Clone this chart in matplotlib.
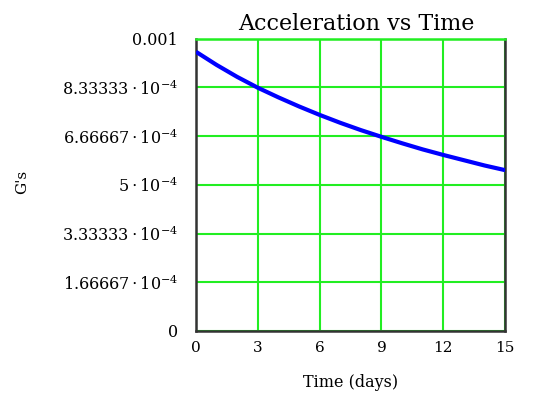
import matplotlib
matplotlib.use("Agg")
import matplotlib.pyplot as plt
import numpy as np

# Data
time_days = [0, 1, 2, 3, 4, 5, 6, 7, 8, 9, 10, 11, 12, 13, 14, 15]
accel_gs = [0.000955, 0.000910, 0.000869, 0.000832, 0.000799, 0.000768,
            0.000739, 0.000712, 0.000687, 0.000664, 0.000642, 0.000621,
            0.000602, 0.000584, 0.000566, 0.000550]
x_ticks = [0, 3, 6, 9, 12, 15]
x_tick_labels = ["0", "3", "6", "9", "12", "15"]
y_ticks = [0, 1/6000, 2/6000, 3/6000, 4/6000, 5/6000, 0.001]
y_tick_labels = ["0",
                 r"$1.66667\cdot10^{-4}$",
                 r"$3.33333\cdot10^{-4}$",
                 r"$5\cdot10^{-4}$",
                 r"$6.66667\cdot10^{-4}$",
                 r"$8.33333\cdot10^{-4}$",
                 "0.001"]

plt.rcParams['font.family'] = ['DejaVu Serif']
plt.rcParams['mathtext.fontset'] = 'dejavuserif'

fig = plt.figure(figsize=(5.34, 3.94), dpi=100)
ax = fig.add_axes([0.367, 0.160, 0.579, 0.742])

ax.plot(time_days, accel_gs, color='#0000ff', lw=3, zorder=3,
        solid_joinstyle='round', solid_capstyle='butt')
ax.set_xlim(0, 15)
ax.set_ylim(0, 0.001)
ax.set_xticks(x_ticks)
ax.set_xticklabels(x_tick_labels, fontsize=11)
ax.set_yticks(y_ticks)
ax.set_yticklabels(y_tick_labels, fontsize=11.5)
ax.tick_params(axis='y', length=0, pad=13)
ax.tick_params(axis='x', length=0, pad=7)
ax.grid(True, color='#22ee22', lw=1.5, zorder=1)
for s in ax.spines.values():
    s.set_color('#333333')
    s.set_linewidth(1.8)
ax.spines['top'].set_color('#22ee22')

ax.set_title("Acceleration vs Time", fontsize=16, pad=6.5, x=0.52)
ax.set_xlabel("Time (days)", fontsize=11.5, labelpad=14)
fig.text(0.042, 0.538, "G's", rotation=90, fontsize=11, ha='center', va='center')

fig.savefig("out.png", dpi=100)
